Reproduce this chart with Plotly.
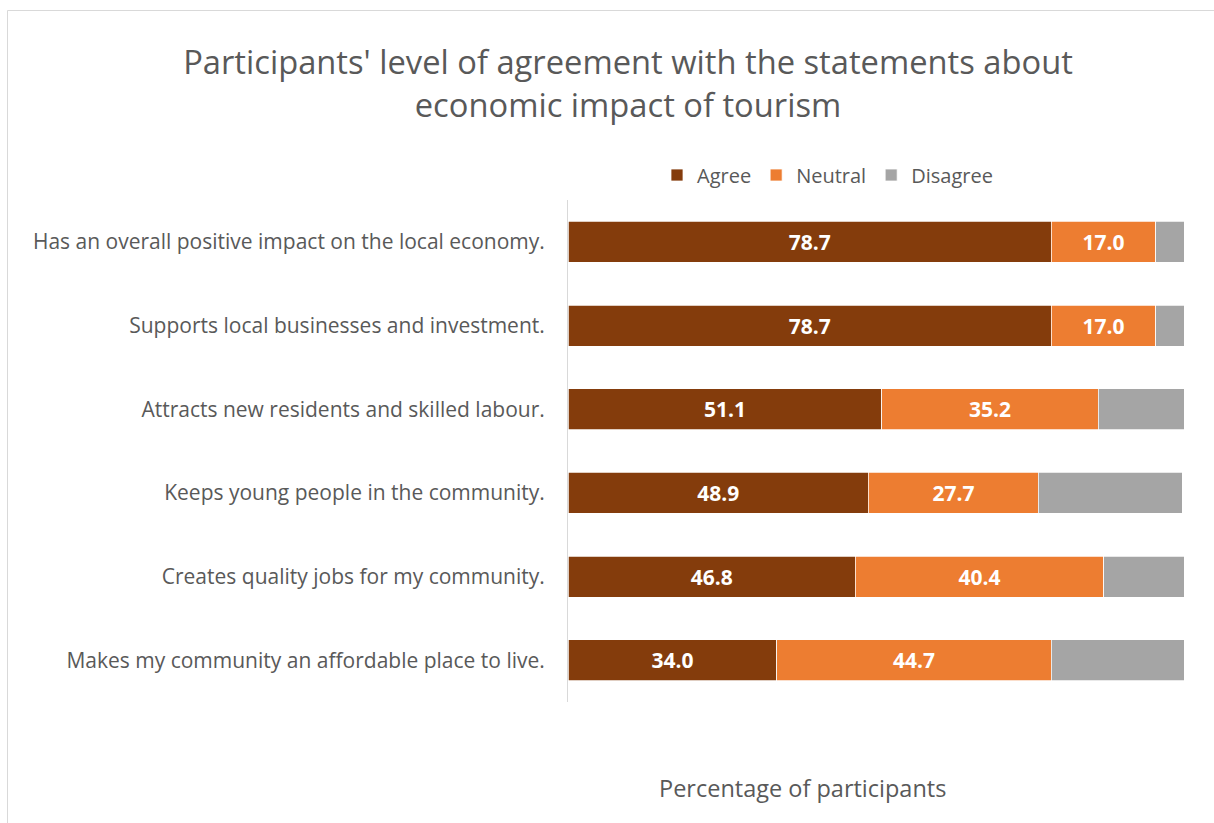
import plotly.graph_objects as go

# Survey statements (top to bottom) and response shares in percent
statements = [
    "Has an overall positive impact on the local economy.",
    "Supports local businesses and investment.",
    "Attracts new residents and skilled labour.",
    "Keeps young people in the community.",
    "Creates quality jobs for my community.",
    "Makes my community an affordable place to live.",
]
agree = [78.7, 78.7, 51.1, 48.9, 46.8, 34.0]
neutral = [17.0, 17.0, 35.2, 27.7, 40.4, 44.7]
disagree = [4.6, 4.6, 14.0, 23.4, 13.2, 21.6]

series = [
    ("Agree", agree, "#843C0C", True),
    ("Neutral", neutral, "#ED7D31", True),
    ("Disagree", disagree, "#A5A5A5", False),
]

FONT = "Open Sans"
GREY_TEXT = "#595959"

W, H = 1214, 823
ML, MR, MT, MB = 568, 30, 200, 121
plot_w = W - ML - MR
plot_h = H - MT - MB


def px_to_paper_x(px):
    return (px - ML) / plot_w


def px_to_paper_y(py):
    return (H - MB - py) / plot_h


fig = go.Figure()
for name, vals, color, labelled in series:
    fig.add_trace(go.Bar(
        name=name,
        y=statements,
        x=vals,
        orientation="h",
        marker=dict(color=color, line=dict(color="white", width=0.75)),
        text=[f"{v:.1f}" for v in vals] if labelled else None,
        textposition="inside" if labelled else "none",
        insidetextanchor="middle",
        textfont=dict(family=FONT, size=21, color="white", weight="bold"),
        hoverinfo="x+y+name",
    ))

fig.update_layout(
    width=W,
    height=H,
    barmode="stack",
    bargap=0.51,
    plot_bgcolor="white",
    paper_bgcolor="white",
    margin=dict(l=ML, r=MR, t=MT, b=MB, autoexpand=False),
    font=dict(family=FONT, color=GREY_TEXT),
    title=dict(
        text="Participants' level of agreement with the statements about<br>economic impact of tourism",
        x=628 / W,
        xanchor="center",
        xref="container",
        y=1 - 74 / H,
        yanchor="middle",
        yref="container",
        font=dict(family=FONT, size=32.7, color=GREY_TEXT),
    ),
    legend=dict(
        orientation="h",
        x=px_to_paper_x(657),
        xanchor="left",
        y=px_to_paper_y(175),
        yanchor="middle",
        font=dict(family=FONT, size=20, color=GREY_TEXT),
        traceorder="normal",
        itemwidth=30,
    ),
    xaxis=dict(
        range=[0, 100.3],
        showgrid=False,
        showticklabels=False,
        zeroline=False,
        showline=False,
        ticks="",
        fixedrange=True,
    ),
    yaxis=dict(
        autorange="reversed",
        showgrid=False,
        showline=True,
        linecolor="#D9D9D9",
        linewidth=1,
        ticks="",
        ticklabelstandoff=18,
        tickfont=dict(family=FONT, size=21, color=GREY_TEXT),
    ),
    showlegend=True,
)

# Axis title under the bars
fig.add_annotation(
    text="Percentage of participants",
    xref="paper", yref="paper",
    x=px_to_paper_x(802), y=px_to_paper_y(788),
    xanchor="center", yanchor="middle",
    showarrow=False,
    font=dict(family=FONT, size=23.5, color=GREY_TEXT),
)

# Chart frame
fig.add_shape(
    type="rect",
    xref="paper", yref="paper",
    x0=px_to_paper_x(7.5), x1=px_to_paper_x(W + 20),
    y0=px_to_paper_y(H + 20), y1=px_to_paper_y(10.5),
    line=dict(color="#D9D9D9", width=1),
    fillcolor="rgba(0,0,0,0)",
    layer="below",
)

fig.write_html("out.html")
